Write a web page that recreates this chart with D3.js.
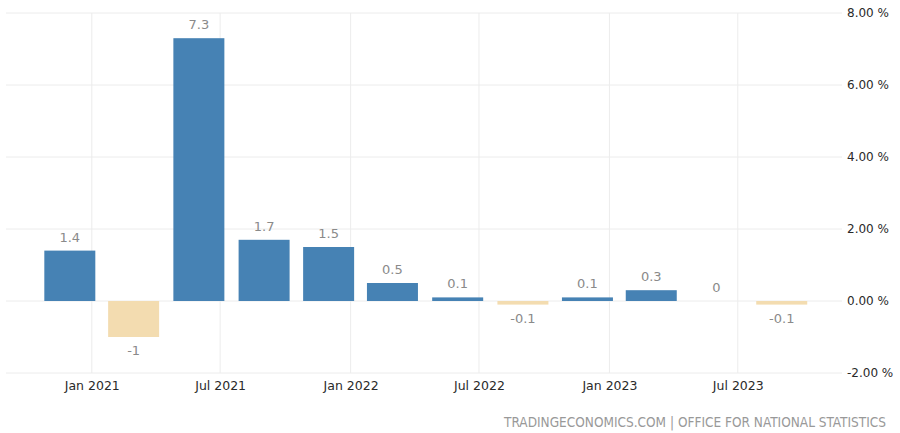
<!DOCTYPE html>
<html>
<head>
<meta charset="utf-8">
<script src="https://cdn.jsdelivr.net/npm/d3@7"></script>
<style>
  html, body { margin: 0; padding: 0; background: #fff; }
  svg { display: block; font-family: "DejaVu Sans", Verdana, sans-serif; }
</style>
</head>
<body>
<svg id="chart" width="900" height="433"></svg>
<script>
// Quarter-end months (UK GDP growth, QoQ %)
const periods = ["2020-12", "2021-03", "2021-06", "2021-09", "2021-12", "2022-03",
                 "2022-06", "2022-09", "2022-12", "2023-03", "2023-06", "2023-09"];
const values  = [1.4, -1, 7.3, 1.7, 1.5, 0.5, 0.1, -0.1, 0.1, 0.3, 0, -0.1];
const xTickLabels = ["Jan 2021", "Jul 2021", "Jan 2022", "Jul 2022", "Jan 2023", "Jul 2023"];
const yTicks = [-2, 0, 2, 4, 6, 8];
const sourceText = "TRADINGECONOMICS.COM | OFFICE FOR NATIONAL STATISTICS";

const parseMonth = d3.timeParse("%Y-%m");
const parseTick = d3.timeParse("%b %Y");
const data = periods.map((p, i) => ({ date: parseMonth(p), value: values[i] }));

const loc = d3.formatLocale({ decimal: ".", thousands: ",", grouping: [3], currency: ["", ""], minus: "-" });

const svg = d3.select("#chart");
const plotL = 6, plotR = 842, plotT = 13, plotB = 373;

const x = d3.scaleTime()
  .domain([new Date(2020, 8, 2), new Date(2023, 10, 25)])
  .range([plotL, plotR]);
const y = d3.scaleLinear().domain([-2, 8]).range([plotB, plotT]);

const barW = 51;

// horizontal gridlines
svg.append("g").selectAll("line").data(yTicks).join("line")
  .attr("x1", plotL).attr("x2", plotR)
  .attr("y1", d => y(d)).attr("y2", d => y(d))
  .attr("stroke", "#ececec").attr("stroke-width", 1);

// vertical gridlines
const tickDates = xTickLabels.map(parseTick);
svg.append("g").selectAll("line").data(tickDates).join("line")
  .attr("x1", d => x(d)).attr("x2", d => x(d))
  .attr("y1", plotT).attr("y2", plotB)
  .attr("stroke", "#ececec").attr("stroke-width", 1);

// bars
svg.append("g").selectAll("rect").data(data).join("rect")
  .attr("x", d => x(d.date) - barW / 2)
  .attr("width", barW)
  .attr("y", d => y(Math.max(0, d.value)))
  .attr("height", d => Math.abs(y(d.value) - y(0)))
  .attr("fill", d => d.value >= 0 ? "#4682b4" : "#f3dcb0");

// value labels
svg.append("g").selectAll("text").data(data).join("text")
  .attr("x", d => x(d.date))
  .attr("y", d => d.value >= 0 ? y(d.value) - 9 : y(d.value) + 18)
  .attr("text-anchor", "middle")
  .attr("font-size", 13)
  .attr("fill", "#8a8a8a")
  .text(d => loc.format("")(d.value));

// x axis labels
const xAxis = d3.axisBottom(x).tickValues(tickDates).tickFormat(d3.timeFormat("%b %Y")).tickSize(0).tickPadding(0);
const gx = svg.append("g").attr("transform", `translate(0,${plotB + 17})`).call(xAxis);
gx.select(".domain").remove();
gx.selectAll("text").attr("font-size", 12.5).attr("fill", "#2a2a2a").attr("font-family", "DejaVu Sans, sans-serif").attr("dy", 0);

// y axis labels (right)
const yAxis = d3.axisRight(y).tickValues(yTicks).tickFormat(d => loc.format(".2f")(d) + " %").tickSize(0).tickPadding(0);
const gy = svg.append("g").attr("transform", `translate(847,0)`).call(yAxis);
gy.select(".domain").remove();
gy.selectAll("text").attr("font-size", 12).attr("fill", "#2a2a2a").attr("font-family", "DejaVu Sans, sans-serif");

// source
svg.append("text")
  .attr("x", 886).attr("y", 427)
  .attr("text-anchor", "end")
  .attr("font-size", 13.5)
  .attr("font-family", "'DejaVu Sans Condensed', 'DejaVu Sans', sans-serif")
  .attr("fill", "#999")
  .text(sourceText);
</script>
</body>
</html>
